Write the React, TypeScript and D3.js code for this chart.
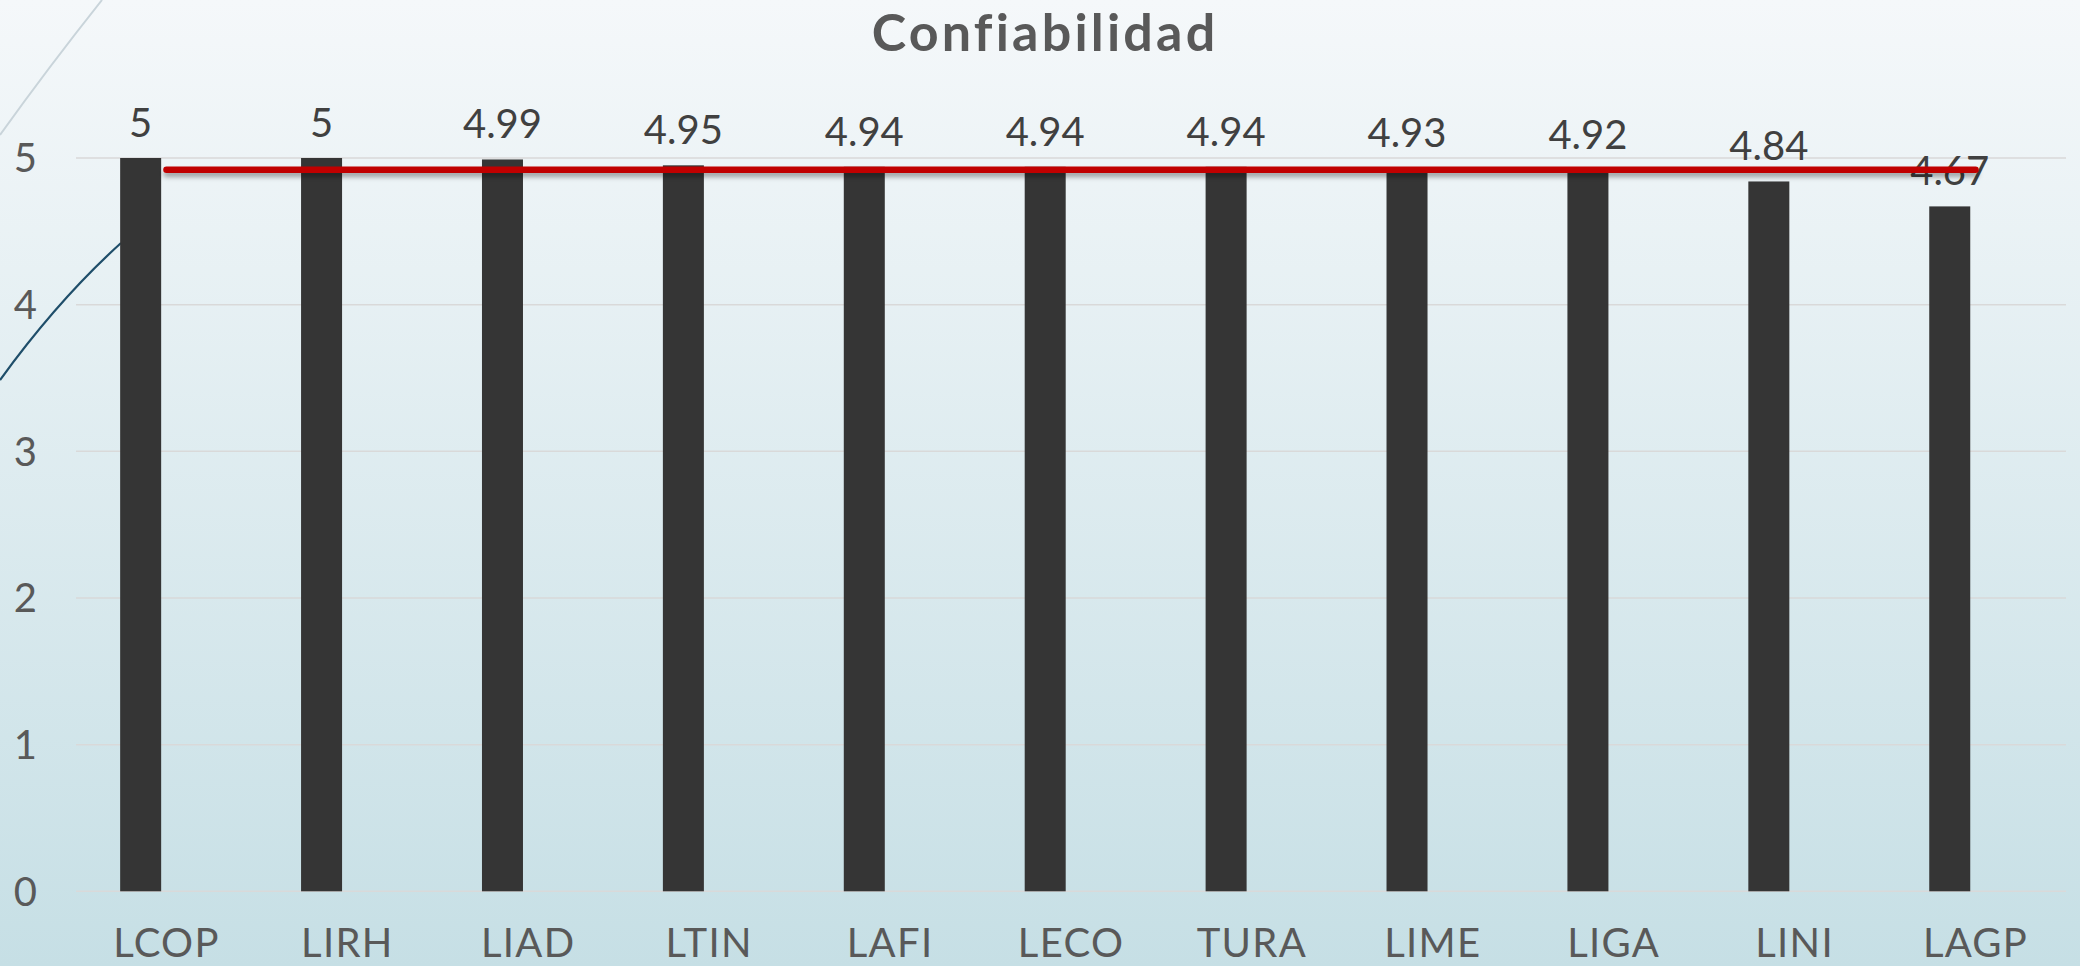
import React from "react";
import * as d3 from "d3";

const categories = ["LCOP", "LIRH", "LIAD", "LTIN", "LAFI", "LECO", "TURA", "LIME", "LIGA", "LINI", "LAGP"];
const values = [5, 5, 4.99, 4.95, 4.94, 4.94, 4.94, 4.93, 4.92, 4.84, 4.67];
const averageValue = 4.92;
const yTicks = [0, 1, 2, 3, 4, 5];
const title = "Confiabilidad";

const W = 2080;
const H = 966;
const FONT = "Lato, 'Open Sans', sans-serif";

export default function App() {
  const x = d3.scaleBand<string>().domain(categories).range([76, 2066]).padding(0);
  const y = d3.scaleLinear().domain([0, 5]).range([891.3, 158]);
  const barW = 41;
  const barOff = -25.8;
  const bc = (c: string) => (x(c) as number) + x.bandwidth() / 2;

  const lineGen = d3
    .line<string>()
    .x((c) => bc(c))
    .y(() => y(averageValue));

  return (
    <div style={{ position: "fixed", left: 0, top: 0, width: W, height: H }}>
      <svg width={W} height={H} style={{ display: "block" }}>
        <defs>
          <linearGradient id="bg" x1="0" y1="0" x2="0" y2="1">
            <stop offset="0" stopColor="#f5f8fa" />
            <stop offset="1" stopColor="#c6dfe5" />
          </linearGradient>
          <filter id="sh" filterUnits="userSpaceOnUse" x={0} y={100} width={W} height={150}>
            <feDropShadow dx="0" dy="4" stdDeviation="2.5" floodColor="#000" floodOpacity="0.35" />
          </filter>
        </defs>
        <rect x={0} y={0} width={W} height={H} fill="url(#bg)" />
        <path d="M0,135 Q48,68 102,0" fill="none" stroke="#c9d4da" strokeWidth={2} />
        <path d="M0,380 Q58,300 121,243" fill="none" stroke="#1f4e6a" strokeWidth={2.2} />
        <text x={1045} y={51} textAnchor="middle" fontFamily={FONT} fontWeight={700} fontSize={52} letterSpacing={3.2} fill="#595959">
          {title}
        </text>
        {yTicks.map((t) => (
          <g key={t}>
            <line x1={76} x2={2066} y1={y(t)} y2={y(t)} stroke="#d9d9d9" strokeWidth={1.5} />
            <text x={37} y={y(t)} dy="0.36em" textAnchor="end" fontFamily={FONT} fontSize={40} fill="#595959">
              {t}
            </text>
          </g>
        ))}
        {categories.map((c, i) => (
          <g key={c}>
            <rect x={bc(c) + barOff - barW / 2} y={y(values[i])} width={barW} height={y(0) - y(values[i])} fill="#353535" />
            <text x={bc(c) + barOff} y={y(values[i]) - 21} textAnchor="middle" fontFamily={FONT} fontSize={40} fill="#404040">
              {values[i]}
            </text>
            <text x={bc(c)} y={957} textAnchor="middle" fontFamily={FONT} fontSize={40} letterSpacing={1.3} fill="#595959">
              {c}
            </text>
          </g>
        ))}
        <path d={lineGen(categories) as string} fill="none" stroke="#c00000" strokeWidth={6.5} strokeLinecap="round" filter="url(#sh)" />
      </svg>
    </div>
  );
}
